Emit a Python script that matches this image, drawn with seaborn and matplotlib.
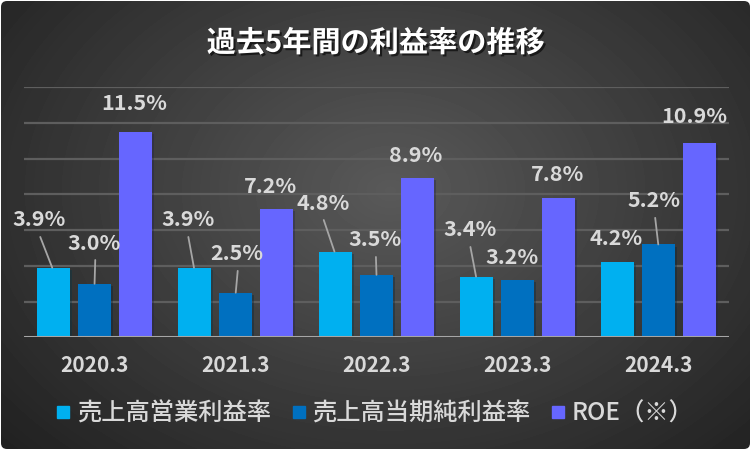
import numpy as np
import pandas as pd
import seaborn as sns
import matplotlib.pyplot as plt
import matplotlib.patheffects as pe
from matplotlib.patches import FancyBboxPatch
from matplotlib.lines import Line2D

# Data
years = ['2020.3', '2021.3', '2022.3', '2023.3', '2024.3']
metrics = ['売上高営業利益率', '売上高当期純利益率', 'ROE（※）']
op_margin = [3.9, 3.9, 4.8, 3.4, 4.2]
net_margin = [3.0, 2.5, 3.5, 3.2, 5.2]
roe = [11.5, 7.2, 8.9, 7.8, 10.9]
colors = ['#00B0F0', '#0070C0', '#6666FF']

# label offsets (dx in category units, dy in %), and whether a leader line is drawn
label_offsets = [
    [(-0.10, 2.67, True), (0.00, 2.28, True), (-0.01, 1.57, False)],
    [(-0.05, 2.67, True), (0.01, 2.17, True), (-0.04, 1.27, False)],
    [(-0.09, 2.72, True), (-0.01, 1.95, True), (-0.01, 1.27, False)],
    [(-0.05, 2.61, True), (-0.04, 1.28, False), (-0.01, 1.31, False)],
    [(-0.01, 1.31, False), (-0.03, 2.44, True), (-0.04, 1.45, False)],
]

df = pd.DataFrame({
    'year': years * 3,
    'metric': [m for m in metrics for _ in years],
    'value': op_margin + net_margin + roe,
})

sns.set_theme(style='dark')
plt.rcParams['font.family'] = ['Noto Sans CJK JP', 'DejaVu Sans']
text_col = '#D9D9D9'

fig = plt.figure(figsize=(7.51, 4.5), dpi=100)
fig.patch.set_facecolor('white')

# radial gradient background with rounded frame
bg = fig.add_axes([0, 0, 1, 1], zorder=-10)
bg.set_axis_off()
yy, xx = np.mgrid[0:450, 0:751]
r = np.sqrt(((xx - 390) / 520.0) ** 2 + ((yy - 190) / 380.0) ** 2)
shade = np.clip(0.35 - 0.22 * r, 0.12, 0.35)
bg.imshow(shade, cmap='gray', vmin=0, vmax=1, extent=[0, 751, 450, 0], aspect='auto')
bg.set_xlim(0, 751)
bg.set_ylim(450, 0)
frame = FancyBboxPatch((1, 1), 749, 448, boxstyle='round,pad=0,rounding_size=6',
                       transform=bg.transData, facecolor='none', edgecolor='none')
bg.add_patch(frame)
bg.images[0].set_clip_path(frame)

ax = fig.add_axes([0.032, 0.2504, 0.939, 0.5556])
ax.set_facecolor('none')
sns.barplot(data=df, x='year', y='value', hue='metric', palette=colors,
            width=0.87, gap=0.19, ax=ax, legend=False, saturation=1, errorbar=None,
            edgecolor='none', linewidth=0)

for p in ax.patches:
    p.set_path_effects([pe.SimplePatchShadow(offset=(1.5, -1.5), alpha=0.35), pe.Normal()])

ax.set_ylim(0, 14)
ax.set_xlim(-0.5, 4.5)
ax.set_yticks(np.arange(2, 15, 2))
ax.yaxis.grid(True, color='#5E5E5E', linewidth=1.6)
ax.xaxis.grid(False)
ax.set_yticklabels([])
ax.tick_params(axis='y', length=0)
ax.tick_params(axis='x', length=0, pad=13)
for lab in ax.get_xticklabels():
    lab.set_color(text_col)
    lab.set_fontsize(15)
    lab.set_fontweight('bold')
ax.set_xlabel('')
ax.set_ylabel('')
for s in ax.spines.values():
    s.set_visible(False)
ax.axhline(0, color='#A6A6A6', linewidth=2.2, zorder=5)

series = [op_margin, net_margin, roe]
slot = 0.87 / 3
for i in range(len(years)):
    for j, vals in enumerate(series):
        xc = i + (j - 1) * slot
        v = vals[i]
        dx, dy, leader = label_offsets[i][j]
        tx, ty = xc + dx, v + dy
        ax.text(tx, ty, f'{v:.1f}%', ha='center', va='center', color=text_col,
                fontsize=15.5, fontweight='bold', zorder=6)
        if leader:
            ax.plot([tx + 0.005, xc + dx * 0.1], [ty - 0.95, v], color='#A6A6A6',
                    linewidth=1.3, zorder=4)

fig.text(0.5, 0.905, '過去5年間の利益率の推移', ha='center', va='center', color='white',
         fontsize=21, fontweight='bold',
         path_effects=[pe.withSimplePatchShadow(offset=(1.5, -1.5), shadow_rgbFace='black', alpha=0.6)])

handles = [Line2D([0], [0], marker='s', linestyle='', markersize=8.5, markerfacecolor=c,
                  markeredgecolor=c) for c in colors]
leg = fig.legend(handles, metrics, loc='center', bbox_to_anchor=(0.5, 0.08), ncol=3,
                 frameon=False, prop={'size': 17.5, 'weight': 'medium'},
                 handlelength=0.5, handletextpad=0.3, columnspacing=0.9)
for t in leg.get_texts():
    t.set_color(text_col)

fig.savefig('out.png', dpi=100, facecolor=fig.get_facecolor())
